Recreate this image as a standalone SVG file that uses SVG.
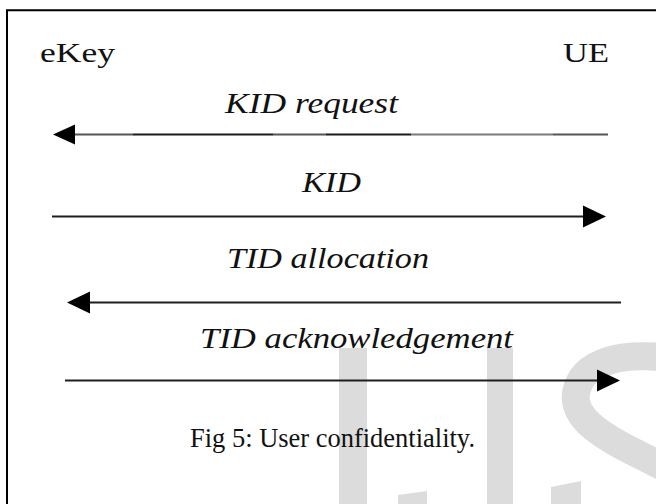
<svg xmlns="http://www.w3.org/2000/svg" width="656" height="504" viewBox="0 0 656 504">
  <style>
    .frame { fill: none; stroke: #000; stroke-width: 2; }
    .wm { fill: #dcdcdc; }
    .wm-stroke { fill: none; stroke: #dcdcdc; stroke-width: 28; }
    .actor { font-family: "Liberation Serif", "Times New Roman", serif; font-size: 28px; fill: #111; }
    .msg { font-family: "Liberation Serif", "Times New Roman", serif; font-style: italic; font-size: 30px; fill: #111; }
    .caption { font-family: "Liberation Serif", "Times New Roman", serif; font-size: 27px; fill: #111; }
    .wire { fill: none; stroke: #1e1e1e; stroke-width: 2; }
    .wire-dark { stroke: #1a1a1a; }
    .wire-mid { stroke: #555; }
    .wire-light { stroke: #7a7a7a; }
    .head { fill: #000; }
  </style>

  <rect width="656" height="504" fill="#fff"/>

  <!-- watermark letters -->
  <g id="watermark">
    <rect class="wm" x="339" y="348" width="28" height="156"/>
    <rect class="wm" x="487" y="348" width="26" height="156"/>
    <polygon class="wm" points="398,495 427,491 427,504 398,504"/>
    <path class="wm-stroke" d="M 700 368 C 660 350 600 352 582 378 C 562 410 592 432 640 455 L 700 486"/>
    <polygon class="wm" points="551,487 581,481 581,504 551,504"/>
  </g>

  <!-- outer frame (runs off the right and bottom edges) -->
  <path class="frame" d="M 7 504 V 10.3 H 656"/>

  <g id="eKey">
    <text class="actor" x="40" y="62" textLength="75" lengthAdjust="spacingAndGlyphs">eKey</text>
  </g>
  <g id="UE">
    <text class="actor" x="563" y="62" textLength="46" lengthAdjust="spacingAndGlyphs">UE</text>
  </g>

  <g id="connectors">
    <!-- KID request: UE -> eKey -->
    <g id="msg-kid-request">
      <line class="wire wire-mid" x1="75" y1="134.5" x2="133" y2="134.5"/>
      <line class="wire wire-dark" x1="133" y1="134.5" x2="273" y2="134.5"/>
      <line class="wire wire-mid" x1="273" y1="134.5" x2="326" y2="134.5"/>
      <line class="wire wire-dark" x1="326" y1="134.5" x2="411" y2="134.5"/>
      <line class="wire wire-light" x1="411" y1="134.5" x2="553" y2="134.5"/>
      <line class="wire wire-mid" x1="553" y1="134.5" x2="608" y2="134.5"/>
      <polygon class="head" points="53,134.5 75,124.5 75,144.5"/>
      <text class="msg" x="225" y="113" textLength="173" lengthAdjust="spacingAndGlyphs">KID request</text>
    </g>
    <!-- KID: eKey -> UE -->
    <g id="msg-kid">
      <line class="wire" x1="52" y1="216.5" x2="584" y2="216.5"/>
      <polygon class="head" points="606,216.5 583,205.5 583,227.5"/>
      <text class="msg" x="302" y="192" textLength="59" lengthAdjust="spacingAndGlyphs">KID</text>
    </g>
    <!-- TID allocation: UE -> eKey -->
    <g id="msg-tid-allocation">
      <line class="wire" x1="89" y1="302.5" x2="621" y2="302.5"/>
      <polygon class="head" points="67,302.5 90,291.5 90,313.5"/>
      <text class="msg" x="227" y="268" textLength="202" lengthAdjust="spacingAndGlyphs">TID allocation</text>
    </g>
    <!-- TID acknowledgement: eKey -> UE -->
    <g id="msg-tid-ack">
      <line class="wire" x1="65" y1="380.5" x2="598" y2="380.5"/>
      <polygon class="head" points="620,380.5 597,369.5 597,391.5"/>
      <text class="msg" x="200" y="348" textLength="313" lengthAdjust="spacingAndGlyphs">TID acknowledgement</text>
    </g>
  </g>

  <g id="caption">
    <text class="caption" x="190" y="447" textLength="285" lengthAdjust="spacingAndGlyphs">Fig 5: User confidentiality.</text>
  </g>
</svg>
